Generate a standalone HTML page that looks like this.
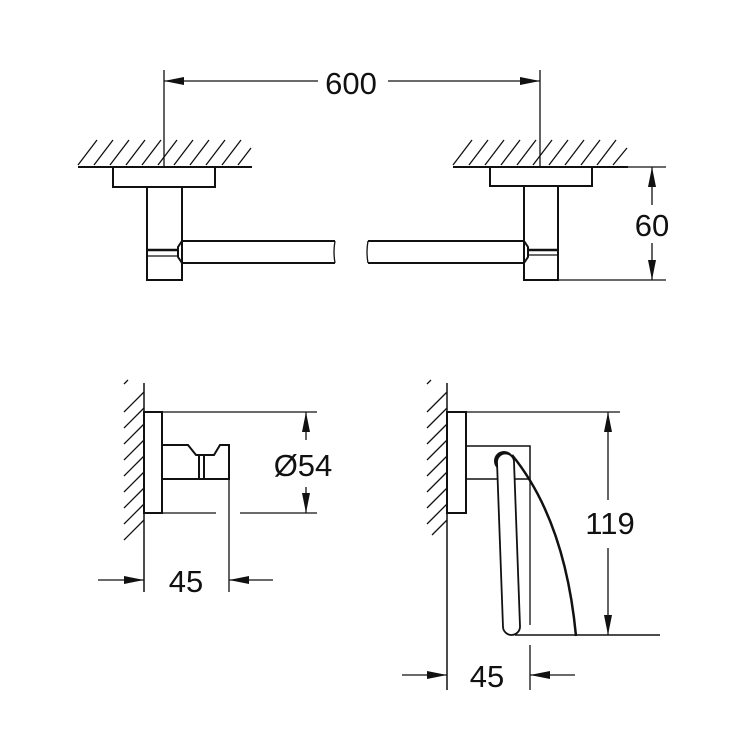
<!DOCTYPE html>
<html><head><meta charset="utf-8"><style>
html,body{margin:0;padding:0;background:#fff;}
svg{display:block}
text{font-family:"Liberation Sans",sans-serif;font-size:31px;fill:#111}
</style></head><body>
<svg width="750" height="750" viewBox="0 0 750 750" xmlns="http://www.w3.org/2000/svg">
<defs>
<marker id="a" viewBox="0 0 20 8" refX="20" refY="4" markerWidth="20" markerHeight="8" markerUnits="userSpaceOnUse" orient="auto"><path d="M0,0 L20,4 L0,8 Z" fill="#111"/></marker>
</defs>
<g stroke="#111" fill="none" stroke-width="1.3">
<line x1="164" y1="70" x2="164" y2="167"/>
<line x1="540" y1="70" x2="540" y2="167"/>
<line x1="318" y1="81" x2="164" y2="81" marker-end="url(#a)"/>
<line x1="388" y1="81" x2="540" y2="81" marker-end="url(#a)"/>
<line x1="78" y1="167" x2="252" y2="167" stroke-width="2"/>
<line x1="453" y1="167" x2="628" y2="167" stroke-width="2"/>
<path d="M78,165 L97,140 M94,165 L113,140 M110,165 L129,140 M126,165 L145,140 M142,165 L161,140 M158,165 L177,140 M174,165 L193,140 M190,165 L209,140 M206,165 L225,140 M222,165 L241,140 M238,165 L251,148"/>
<path d="M453,165 L472,140 M469,165 L488,140 M485,165 L504,140 M501,165 L520,140 M517,165 L536,140 M533,165 L552,140 M549,165 L568,140 M565,165 L584,140 M581,165 L600,140 M597,165 L616,140 M613,165 L627,148"/>
<rect x="113" y="167" width="102" height="20" stroke-width="2"/>
<path d="M147,187 V280 H182 V187" stroke-width="2"/>
<path d="M182,241 H335 M182,263 H335 M182,241 L178,247 V257 L182,263" stroke-width="2"/>
<line x1="147" y1="250" x2="178" y2="250" stroke-width="2.5"/>
<line x1="147" y1="256" x2="178" y2="256" stroke-width="1.3"/>
<path d="M335,241 Q333,252 335,263"/>
<rect x="490" y="167" width="102" height="19" stroke-width="2"/>
<path d="M524,186 V280 H558 V186" stroke-width="2"/>
<path d="M524,241 H368 M524,263 H368 M524,241 L528,247 V257 L524,263" stroke-width="2"/>
<line x1="528" y1="250" x2="558" y2="250" stroke-width="2.5"/>
<line x1="528" y1="255" x2="558" y2="255"/>
<path d="M368,241 Q366,252 368,263"/>
<line x1="592" y1="167" x2="666" y2="167"/>
<line x1="558" y1="280" x2="666" y2="280"/>
<line x1="652" y1="205" x2="652" y2="167" marker-end="url(#a)"/>
<line x1="652" y1="243" x2="652" y2="280" marker-end="url(#a)"/>
<line x1="144" y1="383" x2="144" y2="592" stroke-width="1.5"/>
<path d="M144,392 L124,412 M144,408 L124,428 M144,424 L124,444 M144,440 L124,460 M144,456 L124,476 M144,472 L124,492 M144,488 L124,508 M144,504 L124,524 M144,520 L124,540 M124,384 L128,380"/>
<rect x="144" y="412" width="18" height="101" stroke-width="2"/>
<path d="M162,445 H188 L196,455 H214 L220,445 H229 V479 H162" stroke-width="2"/>
<line x1="199" y1="455" x2="199" y2="479" stroke-width="2"/>
<line x1="204" y1="455" x2="204" y2="479" stroke-width="2"/>
<line x1="162" y1="412" x2="317" y2="412"/>
<line x1="162" y1="513" x2="216" y2="513"/>
<line x1="240" y1="513" x2="317" y2="513"/>
<line x1="229" y1="445" x2="229" y2="592"/>
<line x1="306" y1="440" x2="306" y2="412" marker-end="url(#a)"/>
<line x1="306" y1="487" x2="306" y2="513" marker-end="url(#a)"/>
<line x1="98" y1="580" x2="144" y2="580" marker-end="url(#a)"/>
<line x1="273" y1="580" x2="229" y2="580" marker-end="url(#a)"/>
<line x1="447" y1="383" x2="447" y2="690" stroke-width="1.5"/>
<path d="M447,392 L427,412 M447,408 L427,428 M447,424 L427,444 M447,440 L427,460 M447,456 L427,476 M447,472 L427,492 M447,488 L427,508 M447,504 L427,524 M447,520 L432,535 M427,384 L431,380"/>
<rect x="447" y="412" width="19" height="101" stroke-width="2"/>
<path d="M466,446 H530 V479 H466" stroke-width="1.5"/>
<line x1="530" y1="479" x2="530" y2="625"/>
<circle cx="504" cy="461" r="10" fill="#111" stroke="none"/>
<path d="M497,462 A8.5,8.5 0 0 1 514,462 L520,626 A8.5,8.5 0 0 1 503,627 Z" fill="#fff" stroke-width="1.8"/>
<path d="M512,455 Q565,520 576,636" stroke-width="2.5"/>
<line x1="515" y1="635" x2="660" y2="635" stroke-width="1.5"/>
<line x1="466" y1="412" x2="620" y2="412"/>
<line x1="608" y1="500" x2="608" y2="412" marker-end="url(#a)"/>
<line x1="608" y1="548" x2="608" y2="635" marker-end="url(#a)"/>
<line x1="530" y1="645" x2="530" y2="690"/>
<line x1="402" y1="675" x2="447" y2="675" marker-end="url(#a)"/>
<line x1="575" y1="675" x2="530" y2="675" marker-end="url(#a)"/>
</g>
<text x="351" y="94" text-anchor="middle">600</text>
<text x="652" y="236" text-anchor="middle">60</text>
<text x="303" y="476" text-anchor="middle">Ø54</text>
<text x="186" y="592" text-anchor="middle">45</text>
<text x="610" y="534" text-anchor="middle">119</text>
<text x="487" y="687" text-anchor="middle">45</text>
</svg>
</body></html>
